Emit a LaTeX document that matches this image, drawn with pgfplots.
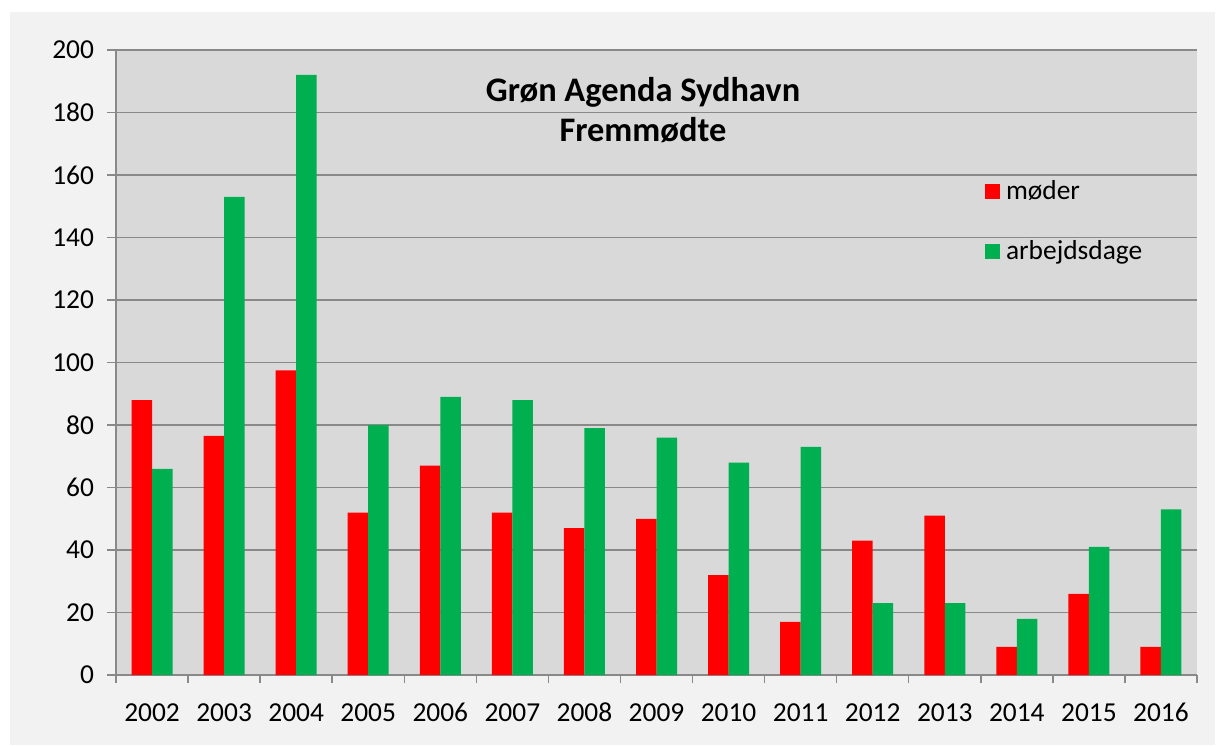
\documentclass[border=0pt]{standalone}
\usepackage{pgfplots}
\pgfplotsset{compat=1.18}
\usepackage{fontspec}
\setmainfont{Carlito}
\definecolor{barred}{HTML}{FF0000}
\definecolor{bargreen}{HTML}{00B050}
\definecolor{plotbg}{HTML}{D9D9D9}
\definecolor{outerbg}{HTML}{F2F2F2}
\definecolor{gridgray}{HTML}{898989}
\begin{document}
\begin{tikzpicture}
\fill[white] (-58pt,-35pt) rectangle (551.5pt,337.5pt);
\fill[outerbg] (-53pt,-35pt) rectangle (549.5pt,331.5pt);
\begin{axis}[
  at={(0,0)}, anchor=south west,
  scale only axis, width=540.5pt, height=312.5pt,
  ybar=0pt, bar width=10.25pt,
  xmin=-0.5, xmax=14.5, ymin=0, ymax=200,
  xtick={0,...,14},
  xticklabels={2002,2003,2004,2005,2006,2007,2008,2009,2010,2011,2012,2013,2014,2015,2016},
  minor xtick={-0.5,0.5,...,14.5},
  ytick={0,20,...,200},
  major x tick style={draw=none},
  minor x tick style={draw=gridgray, line width=0.75pt},
  y tick style={draw=gridgray, line width=0.75pt},
  tick align=outside,
  major tick length=4.5pt, minor tick length=4pt,
  ymajorgrids, grid style={draw=gridgray, line width=0.75pt},
  axis x line*=bottom, axis y line*=left,
  axis line style={draw=gridgray, line width=0.75pt, -},
  axis background/.style={fill=plotbg},
  /pgf/number format/assume math mode=true,
  ticklabel style={font=\fontsize{13.7}{16}\selectfont, text=black},
  yticklabel style={xshift=-3pt},
  xticklabel style={anchor=base, yshift=-18.5pt},
  legend style={at={(rel axis cs:0.798,0.804)}, anchor=north west, draw=none, fill=none,
    font=\fontsize{13.7}{16}\selectfont, row sep=15pt, cells={anchor=west}},
  legend image code/.code={\fill[#1,draw=none] (0pt,-3.75pt) rectangle (7.5pt,3.75pt);},
  legend cell align=left,
]
\addplot[fill=barred, draw=none] coordinates {
(0,88) (1,76.5) (2,97.5) (3,52) (4,67) (5,52) (6,47) (7,50) (8,32) (9,17) (10,43) (11,51) (12,9) (13,26) (14,9)};
\addplot[fill=bargreen, draw=none] coordinates {
(0,66) (1,153) (2,192) (3,80) (4,89) (5,88) (6,79) (7,76) (8,68) (9,73) (10,23) (11,23) (12,18) (13,41) (14,53)};
\addlegendentry{\hspace{1pt}møder}
\addlegendentry{\hspace{1pt}arbejdsdage}
\node[align=center, font=\bfseries\fontsize{17.2}{20}\selectfont] at (rel axis cs:0.4875,0.904) {Grøn Agenda Sydhavn\\Fremmødte};
\end{axis}
\pgfresetboundingbox
\path (-58pt,-35pt) rectangle (551.5pt,337.5pt);
\end{tikzpicture}
\end{document}
